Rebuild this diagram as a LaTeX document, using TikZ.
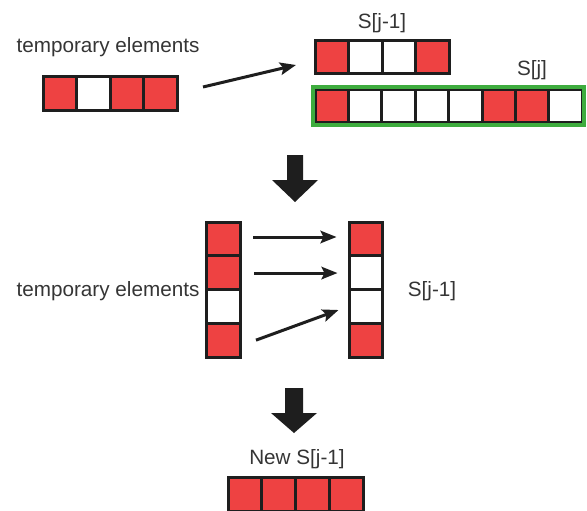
\documentclass[tikz,border=0pt]{standalone}
\usepackage{fontspec}
\setmainfont{Liberation Sans}
\usetikzlibrary{arrows.meta,fit}
\definecolor{cellred}{RGB}{238,66,66}
\definecolor{boxgreen}{RGB}{62,172,62}
\definecolor{ink}{RGB}{30,30,30}
\begin{document}
\begin{tikzpicture}[x=1pt,y=-1pt,
  cell/.style={draw=ink,line width=3pt,minimum width=33.5pt,minimum height=33.5pt,inner sep=0pt},
  R/.style={cell,fill=cellred},
  W/.style={cell,fill=white},
  lbl/.style={text=ink!90,inner sep=0pt,font=\fontsize{20.7}{24}\selectfont},
  conn/.style={draw=ink,line width=3pt,-{Stealth[length=16pt,width=12.5pt,inset=3pt]}},
  bigarrow/.style={fill=ink}]
\useasboundingbox (0,0) rectangle (587,511);
\clip (0,0) rectangle (587,511);
% top: temporary elements
\node[lbl] (tlabel) at (108,47) {temporary elements};
\foreach \s [count=\i] in {R,W,R,R}
  \node[\s] (t\i) at ({59.75+33.5*(\i-1)},93.5) {};
% S[j-1]
\node[lbl] (alabel) at (382,23) {S[j-1]};
\foreach \s [count=\i] in {R,W,W,R}
  \node[\s] (a\i) at ({331.75+33.5*(\i-1)},57) {};
% S[j]
\node[lbl] (slabel) at (532,70) {S[j]};
\foreach \s [count=\i] in {R,W,W,W,W,R,R,W}
  \node[\s] (s\i) at ({331.75+33.4*(\i-1)},106) {};
\node[draw=boxgreen,line width=4pt,inner sep=0.5pt,fit=(s1)(s8)] (sbox) {};
% top arrow
\draw[conn] ([xshift=24.5pt,yshift=6.5pt]t4.east) -- ([xshift=-17.5pt,yshift=-8pt]a1.west);
% big arrow 1
\fill[bigarrow] (287,155) -- (303,155) -- (303,180) -- (318,180) -- (295,202) -- (272,180) -- (287,180) -- cycle;
% middle
\node[lbl] (mlabel) at (108,291) {temporary elements};
\node[lbl] (rlabel) at (432,291) {S[j-1]};
\foreach \s [count=\i] in {R,R,W,R}
  \node[\s,minimum width=34pt,minimum height=33.75pt] (l\i) at (223,{238.9+33.75*(\i-1)}) {};
\foreach \s [count=\i] in {R,W,W,R}
  \node[\s,minimum width=33pt,minimum height=33.75pt] (r\i) at (365.5,{238.9+33.75*(\i-1)}) {};
\draw[conn] ([xshift=11.5pt,yshift=1.9pt]l1.east) -- ([xshift=-11pt,yshift=1.9pt]r1.west);
\draw[conn] ([xshift=12.5pt,yshift=-0.4pt]l2.east) -- ([xshift=-10pt,yshift=-0.4pt]r2.west);
\draw[conn] ([xshift=14.5pt]l4.east) -- ([xshift=-9pt,yshift=-3.6pt]r3.west);
% big arrow 2
\fill[bigarrow] (285,388) -- (303,388) -- (303,413) -- (317,413) -- (294,433) -- (271,413) -- (285,413) -- cycle;
% bottom
\node[lbl] (nlabel) at (297,459) {New S[j-1]};
\foreach \s [count=\i] in {R,R,R,R}
  \node[\s,minimum width=33.75pt,minimum height=33.75pt] (n\i) at ({244.9+33.75*(\i-1)},494.5) {};
\end{tikzpicture}
\end{document}
